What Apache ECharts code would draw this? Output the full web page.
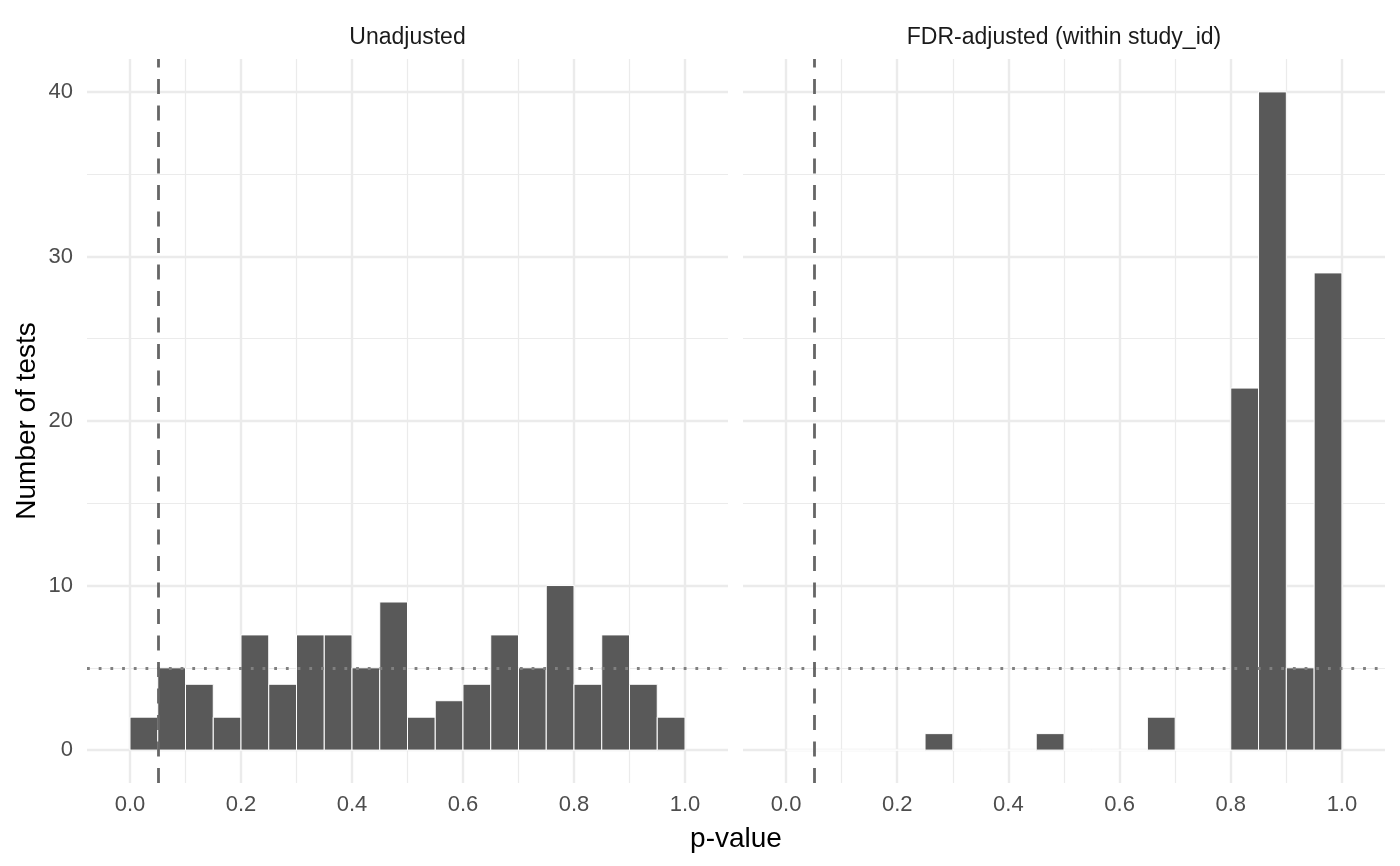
<!DOCTYPE html>
<html>
<head>
<meta charset="utf-8">
<title>p-value histograms</title>
<script src="https://cdn.jsdelivr.net/npm/echarts@6/dist/echarts.min.js"></script>
<style>
  html, body { margin: 0; padding: 0; background: #fff; }
  #container { width: 1400px; height: 866px; }
</style>
</head>
<body>
<div id="container"></div>
<script>
// bin edges (binwidth 0.05)
var binStart = [0.00, 0.05, 0.10, 0.15, 0.20, 0.25, 0.30, 0.35, 0.40, 0.45,
                0.50, 0.55, 0.60, 0.65, 0.70, 0.75, 0.80, 0.85, 0.90, 0.95];
var binEnd   = [0.05, 0.10, 0.15, 0.20, 0.25, 0.30, 0.35, 0.40, 0.45, 0.50,
                0.55, 0.60, 0.65, 0.70, 0.75, 0.80, 0.85, 0.90, 0.95, 1.00];
// counts per bin
var rawCounts = [2, 5, 4, 2, 7, 4, 7, 7, 5, 9, 2, 3, 4, 7, 5, 10, 4, 7, 4, 2];
var fdrCounts = [0, 0, 0, 0, 0, 1, 0, 0, 0, 1, 0, 0, 0, 2, 0, 0, 22, 40, 5, 29];

var panelTitles = ['Unadjusted', 'FDR-adjusted (within study_id)'];
var xMajor = [0, 0.2, 0.4, 0.6, 0.8, 1.0];
var xMinor = [0.1, 0.3, 0.5, 0.7, 0.9];
var yMajor = [0, 10, 20, 30, 40];
var yMinor = [5, 15, 25, 35];
var alphaLine = 0.05;   // vertical dashed line
var expectedLine = 5;   // horizontal dotted line

var FONT = '"Liberation Sans", Arial, sans-serif';

function binData(counts){
    var out = [];
    for(var i=0;i<counts.length;i++){
        out.push([binStart[i], binEnd[i], counts[i]]);
    }
    return out;
}

function renderBar(params, api){
    var p0 = api.coord([api.value(0), api.value(2)]);
    var p1 = api.coord([api.value(1), 0]);
    return {
        type: 'rect',
        shape: {x: p0[0], y: p0[1], width: p1[0]-p0[0], height: p1[1]-p0[1]},
        style: {fill: '#595959', stroke: '#ffffff', lineWidth: 1}
    };
}

//背景网格线
function gridLines(idx){
    var data = [];
    xMinor.forEach(function(v){ data.push({xAxis: v, lineStyle: {width: 1.2}}); });
    yMinor.forEach(function(v){ data.push({yAxis: v, lineStyle: {width: 1.2}}); });
    xMajor.forEach(function(v){ data.push({xAxis: v, lineStyle: {width: 2.4}}); });
    yMajor.forEach(function(v){ data.push({yAxis: v, lineStyle: {width: 2.4}}); });
    return {
        type: 'line', xAxisIndex: idx, yAxisIndex: idx, data: [], z: 1,
        markLine: {
            z: 1, silent: true, symbol: 'none', animation: false,
            label: {show: false},
            lineStyle: {color: '#ebebeb', type: 'solid'},
            emphasis: {disabled: true},
            data: data
        }
    };
}

//参考线
function refLines(idx){
    return {
        type: 'line', xAxisIndex: idx, yAxisIndex: idx, data: [], z: 6,
        markLine: {
            z: 6, silent: true, symbol: 'none', animation: false,
            label: {show: false},
            emphasis: {disabled: true},
            data: [
                {yAxis: expectedLine, lineStyle: {color: '#808080', width: 2.8, type: [2.8, 8.9], cap: 'butt'}},
                {xAxis: alphaLine, lineStyle: {color: '#666666', width: 2.8, type: [15, 11.5], cap: 'butt'}}
            ]
        }
    };
}

var dom = document.getElementById('container');
var myChart = echarts.init(dom);
var grids = [
    {left: 87, top: 59, width: 641, height: 724},
    {left: 743, top: 59, width: 642, height: 724}
];
var xAxes = [], yAxes = [];
for(var g=0; g<2; g++){
    xAxes.push({
        type: 'value', gridIndex: g, min: -0.0775, max: 1.0775,
        axisLine: {show: false}, axisTick: {show: false}, splitLine: {show: false},
        axisLabel: {
            customValues: xMajor, margin: 11,
            fontFamily: FONT, fontSize: 22, color: '#4d4d4d',
            formatter: function(v){ return v.toFixed(1); }
        }
    });
    yAxes.push({
        type: 'value', gridIndex: g, min: -2, max: 42,
        axisLine: {show: false}, axisTick: {show: false}, splitLine: {show: false},
        axisLabel: {
            show: g === 0, customValues: yMajor, margin: 14,
            fontFamily: FONT, fontSize: 22, color: '#4d4d4d'
        }
    });
}

var option = {
    animation: false,
    backgroundColor: '#ffffff',
    grid: grids,
    xAxis: xAxes,
    yAxis: yAxes,
    graphic: [
        {type: 'text', x: 407.5, y: 37.5, silent: true,
         style: {text: panelTitles[0], font: '23px ' + FONT, fill: '#1a1a1a', textAlign: 'center', textVerticalAlign: 'middle'}},
        {type: 'text', x: 1064, y: 37.5, silent: true,
         style: {text: panelTitles[1], font: '23px ' + FONT, fill: '#1a1a1a', textAlign: 'center', textVerticalAlign: 'middle'}},
        {type: 'text', x: 736, y: 839, silent: true,
         style: {text: 'p-value', font: '28px ' + FONT, fill: '#000000', textAlign: 'center', textVerticalAlign: 'middle'}},
        {type: 'text', x: 27, y: 421, rotation: Math.PI/2, silent: true,
         style: {text: 'Number of tests', font: '28px ' + FONT, fill: '#000000', textAlign: 'center', textVerticalAlign: 'middle'}}
    ],
    series: [
        gridLines(0),
        gridLines(1),
        {
            type: 'custom', name: panelTitles[0], xAxisIndex: 0, yAxisIndex: 0, z: 3,
            renderItem: renderBar, encode: {x: [0, 1], y: 2},
            data: binData(rawCounts)
        },
        {
            type: 'custom', name: panelTitles[1], xAxisIndex: 1, yAxisIndex: 1, z: 3,
            renderItem: renderBar, encode: {x: [0, 1], y: 2},
            data: binData(fdrCounts)
        },
        refLines(0),
        refLines(1)
    ]
};
myChart.setOption(option, true);
</script>
</body>
</html>
